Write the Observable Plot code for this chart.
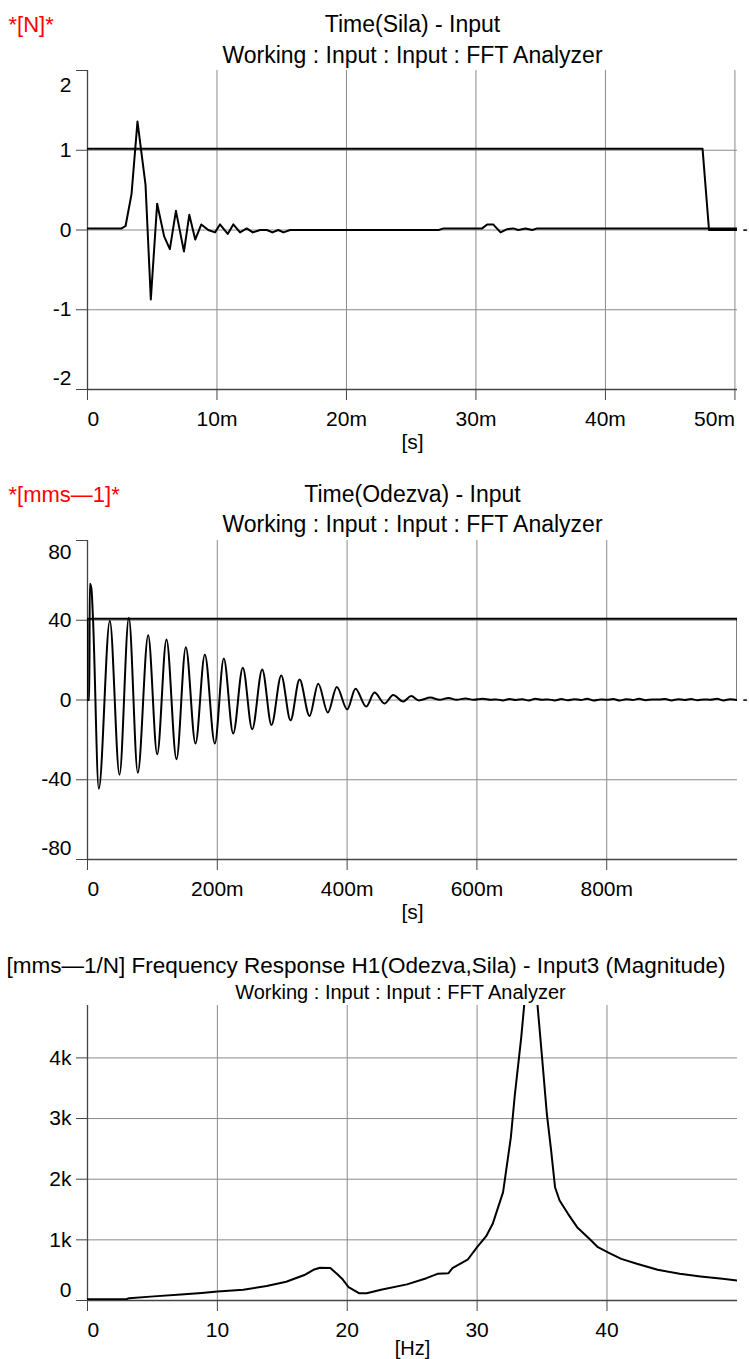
<!DOCTYPE html>
<html><head><meta charset="utf-8">
<script src="https://cdn.jsdelivr.net/npm/d3@7"></script>
<script src="https://cdn.jsdelivr.net/npm/@observablehq/plot@0.6"></script>
<style>
html,body{margin:0;padding:0;background:#fff;}
#chart{width:749px;}
#chart svg{display:block;}
</style></head><body><div id="chart"></div>
<script>
const FONT = "'Liberation Sans', Arial, Helvetica, sans-serif";

// ---------- Chart 1: Time(Sila) ----------
const forceT = [0, 0.00263, 0.00294, 0.00340, 0.00386, 0.00448, 0.00489, 0.00538, 0.00592, 0.00636, 0.00683, 0.00745, 0.00786, 0.00832, 0.00879, 0.00933, 0.00985, 0.01023, 0.01083, 0.01126, 0.01178, 0.01230, 0.01276, 0.01333, 0.01385, 0.01428, 0.01474, 0.01513, 0.01565, 0.02712, 0.02751, 0.03048, 0.03087, 0.03133, 0.03190, 0.03241, 0.03288, 0.03327, 0.03383, 0.03435, 0.03473, 0.0502];
const forceV = [0.02, 0.02, 0.05, 0.45, 1.36, 0.57, -0.87, 0.33, -0.08, -0.24, 0.24, -0.27, 0.19, -0.12, 0.07, 0.0, -0.03, 0.07, -0.05, 0.07, -0.03, 0.02, -0.03, 0.0, 0.0, -0.03, 0.0, -0.03, 0.0, 0.0, 0.02, 0.02, 0.07, 0.07, -0.03, 0.01, 0.02, 0.0, 0.02, 0.0, 0.02, 0.02];
const win1T = [0, 0.0475, 0.0480, 0.0502];
const win1V = [1.02, 1.02, 0, 0];
const x1Ticks = [0, 0.01, 0.02, 0.03, 0.04, 0.05];
const x1Labels = ["0", "10m", "20m", "30m", "40m", "50m"];
const y1Ticks = [-2, -1, 0, 1, 2];
const y1Labels = ["-2", "-1", "0", "1", "2"];

// ---------- Chart 2: Time(Odezva) ----------
const respT = [0, 0.0028, 0.0035, 0.0060, 0.0085, 0.0174, 0.0344, 0.0493, 0.0637, 0.0775, 0.0935, 0.1074, 0.1217, 0.1371, 0.1515, 0.1664, 0.1808, 0.1962, 0.2100, 0.2245, 0.2393, 0.2538, 0.2692, 0.2835, 0.2985, 0.3128, 0.3267, 0.3421, 0.3555, 0.3703, 0.3841, 0.4002, 0.4129, 0.4294, 0.4422, 0.4576, 0.4710, 0.4864, 0.4988, 0.5105, 0.5285, 0.5424, 0.5562, 0.5686, 0.5824, 0.5948, 0.6086, 0.6210,
  0.63, 0.64, 0.65, 0.66, 0.67, 0.68, 0.69, 0.70, 0.71, 0.72, 0.73, 0.74, 0.75, 0.76, 0.77, 0.78, 0.79, 0.80, 0.81, 0.82, 0.83, 0.84, 0.85, 0.86, 0.87, 0.88, 0.89, 0.90, 0.91, 0.92, 0.93, 0.94, 0.95, 0.96, 0.97, 0.98, 0.99, 1.00, 1.0015];
const respV = [0, 0, 58.3, 56, 40.5, -44.5, 39.8, -37.5, 41.2, -36.5, 32.5, -27.2, 30.3, -29.7, 26.5, -21.8, 22.8, -21.8, 20.8, -16.8, 16.2, -14.7, 15.3, -12.5, 12.3, -10.2, 10.3, -8.0, 8.2, -6.3, 6.5, -4.7, 5.7, -3.3, 3.7, -1.8, 2.5, -0.8, 2.0, -0.2, 1.2, 0.1, 1.0, 0.1, 0.8, 0.1, 0.6, 0.1,
  0.3, -0.2, 0.5, 0.0, 0.4, -0.3, 0.6, 0.1, 0.3, -0.2, 0.5, -0.1, 0.4, 0.0, 0.6, -0.2, 0.3, 0.1, 0.5, -0.3, 0.4, 0.0, 0.6, -0.1, 0.3, 0.2, 0.5, -0.2, 0.4, 0.0, 0.5, -0.1, 0.3, 0.1, 0.6, -0.2, 0.4, 0.0, 0.2];
const win2T = [0, 0, 1.0015, 1.0015];
const win2V = [0, 40.8, 40.8, 0];
const x2Ticks = [0, 0.2, 0.4, 0.6, 0.8];
const x2Labels = ["0", "200m", "400m", "600m", "800m"];
const y2Ticks = [-80, -40, 0, 40, 80];
const y2Labels = ["-80", "-40", "0", "40", "80"];

// ---------- Chart 3: Frequency Response H1 ----------
const frqF = [0, 3.0, 3.2, 5.1, 7.2, 8.8, 10.0, 12.0, 13.8, 15.3, 16.7, 17.4, 17.9, 18.7, 19.2, 19.6, 20.1, 20.9, 21.5, 22.6, 24.6, 26.1, 26.95, 27.8, 28.1, 29.3, 30.0, 30.7, 31.2, 32.0, 32.6, 32.9, 33.4, 34.15, 35.0, 35.37, 35.7, 36.0, 36.35, 37.0, 37.7, 38.7, 39.3, 40.15, 41.1, 42.3, 43.9, 45.6, 47.2, 48.9, 50.05];
const frqMag = [20, 20, 38, 68, 99, 125, 148, 178, 240, 310, 420, 506, 539, 535, 440, 360, 220, 121, 121, 176, 266, 368, 440, 451, 533, 680, 879, 1060, 1264, 1786, 2693, 3380, 4341, 6100, 4011, 3078, 2473, 1868, 1649, 1429, 1209, 1006, 879, 786, 687, 605, 506, 440, 396, 357, 330];
const x3Ticks = [0, 10, 20, 30, 40];
const x3Labels = ["0", "10", "20", "30", "40"];
const y3Ticks = [0, 1000, 2000, 3000, 4000];
const y3Labels = ["0", "1k", "2k", "3k", "4k"];

const GRID = "#8a8a8a", AXIS = "#444";

function chart(c) {
  const [x0, x1] = c.xDomain, [y0, y1] = c.yDomain;
  const yMid = [], yTop = [], yBot = [];
  c.yTicks.forEach((v, i) => {
    const d = {v, s: c.yLabels[i]};
    if (v === y1) yTop.push(d); else if (v === y0) yBot.push(d); else yMid.push(d);
  });
  const xStart = [], xMid = [], xEnd = [];
  c.xTicks.forEach((v, i) => {
    const d = {v, s: c.xLabels[i]};
    if (i === 0) xStart.push(d); else if (v > 0.97 * x1) xEnd.push(d); else xMid.push(d);
  });
  const tickFont = {fontSize: 21, fill: "black", fontFamily: FONT};
  const marks = [
    Plot.ruleX(c.xTicks.filter(v => v !== x0), {stroke: GRID, strokeWidth: 1}),
    Plot.ruleY(c.yTicks.filter(v => v !== y0 && v !== y1), {stroke: GRID, strokeWidth: 1}),
    Plot.ruleX([x0], {stroke: AXIS, strokeWidth: 1.3}),
    Plot.ruleY([y0], {stroke: AXIS, strokeWidth: 1.5}),
    ...c.series.map(s => Plot.line(s.data, {x: "x", y: "y", stroke: "black", strokeWidth: 2, curve: s.curve || "linear", clip: true})),
    Plot.text(yMid, {y: "v", text: "s", frameAnchor: "left", textAnchor: "end", dx: -16, lineAnchor: "middle", ...tickFont}),
    Plot.text(yTop, {y: "v", text: "s", frameAnchor: "left", textAnchor: "end", dx: -16, lineAnchor: "top", dy: c.yTopDy, ...tickFont}),
    Plot.text(yBot, {y: "v", text: "s", frameAnchor: "left", textAnchor: "end", dx: -16, lineAnchor: "bottom", dy: c.yBotDy, ...tickFont}),
    Plot.text(xStart, {x: "v", text: "s", frameAnchor: "bottom", textAnchor: "start", lineAnchor: "bottom", dy: c.xLabelDy, ...tickFont}),
    Plot.text(xMid, {x: "v", text: "s", frameAnchor: "bottom", textAnchor: "middle", lineAnchor: "bottom", dy: c.xLabelDy, ...tickFont}),
    Plot.text(xEnd, {x: "v", text: "s", frameAnchor: "bottom", textAnchor: "end", lineAnchor: "bottom", dy: c.xLabelDy, ...tickFont}),
    Plot.text([c.xTitle], {text: d => d, frameAnchor: "bottom", lineAnchor: "bottom", dy: c.xTitleDy, fontSize: c.xTitleSize || 21, fill: "black", fontFamily: FONT}),
    ...c.titles.map(t => Plot.text([t.text], {text: d => d, frameAnchor: t.anchor, textAnchor: t.textAnchor || "middle", lineAnchor: "bottom", dx: t.dx || 0, dy: t.dy, fontSize: t.size, fill: t.fill || "black", fontFamily: FONT}))
  ];
  if (c.marker) marks.push(Plot.text([0], {y: d => d, text: () => "-", frameAnchor: "right", dx: 10, lineAnchor: "middle", fontSize: 14, fontWeight: "bold", fill: "#222"}));
  return Plot.plot({
    width: 749, height: c.height,
    marginLeft: 87, marginRight: 12, marginTop: c.marginTop, marginBottom: c.marginBottom,
    x: {type: "linear", domain: c.xDomain, ticks: c.xTicks, tickSize: 11, tickFormat: () => "", label: null},
    y: {type: "linear", domain: c.yDomain, ticks: c.yTicks, tickSize: 11, tickFormat: () => "", label: null},
    style: {fontFamily: FONT, fontSize: "21px", color: AXIS, background: "white", overflow: "visible"},
    marks
  });
}

const zip = (xs, ys) => xs.map((x, i) => ({x, y: ys[i]}));

const root = document.getElementById("chart");

root.appendChild(chart({
  height: 460, marginTop: 70, marginBottom: 71,
  xDomain: [0, 0.0502], yDomain: [-2, 2],
  xTicks: x1Ticks, xLabels: x1Labels, yTicks: y1Ticks, yLabels: y1Labels,
  yTopDy: 7, yBotDy: -5, xLabelDy: 36, xTitle: "[s]", xTitleDy: 59, marker: true,
  series: [{data: zip(win1T, win1V)}, {data: zip(forceT, forceV)}],
  titles: [
    {text: "*[N]*", anchor: "top-left", textAnchor: "start", dx: -79, dy: -39, size: 22, fill: "#ff0000"},
    {text: "Time(Sila) - Input", anchor: "top", dy: -39, size: 23},
    {text: "Working : Input : Input : FFT Analyzer", anchor: "top", dy: -8, size: 23}
  ]
}));

root.appendChild(chart({
  height: 470, marginTop: 80, marginBottom: 71,
  xDomain: [0, 1.0015], yDomain: [-80, 80],
  xTicks: x2Ticks, xLabels: x2Labels, yTicks: y2Ticks, yLabels: y2Labels,
  yTopDy: 4, yBotDy: -5, xLabelDy: 36, xTitle: "[s]", xTitleDy: 59, marker: true,
  series: [{data: zip(win2T, win2V)}, {data: zip(respT, respV), curve: "monotone-x"}],
  titles: [
    {text: "*[mms—1]*", anchor: "top-left", textAnchor: "start", dx: -79, dy: -39, size: 22, fill: "#ff0000"},
    {text: "Time(Odezva) - Input", anchor: "top", dy: -39, size: 23},
    {text: "Working : Input : Input : FFT Analyzer", anchor: "top", dy: -9, size: 23}
  ]
}));

root.appendChild(chart({
  height: 429, marginTop: 75, marginBottom: 59,
  xDomain: [0, 50.05], yDomain: [0, 4864],
  xTicks: x3Ticks, xLabels: x3Labels, yTicks: y3Ticks, yLabels: y3Labels,
  yTopDy: 4, yBotDy: -4, xLabelDy: 36, xTitle: "[Hz]", xTitleDy: 54, xTitleSize: 20, marker: false,
  series: [{data: zip(frqF, frqMag)}],
  titles: [
    {text: "[mms—1/N] Frequency Response H1(Odezva,Sila) - Input3 (Magnitude)", anchor: "top-left", textAnchor: "start", dx: -81, dy: -33, size: 22.5},
    {text: "Working : Input : Input : FFT Analyzer", anchor: "top", dx: -12, dy: -7, size: 20}
  ]
}));
</script></body></html>
